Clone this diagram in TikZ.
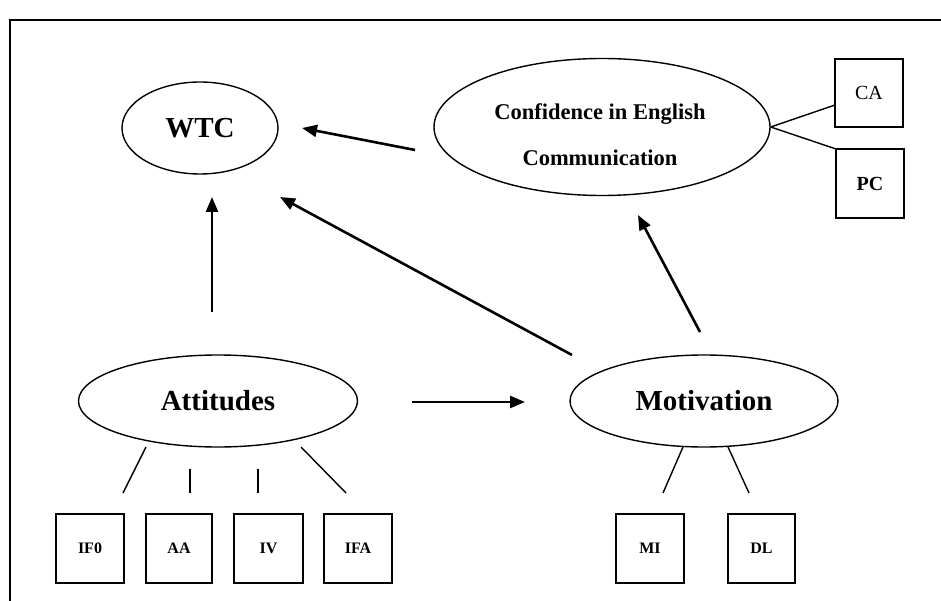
\documentclass[tikz,border=0pt]{standalone}
\usepackage{fontspec}
\setmainfont{Liberation Serif}
\usetikzlibrary{shapes.geometric,arrows.meta}
\begin{document}
\begin{tikzpicture}[x=1pt,y=-1pt,
  oval/.style={draw,ellipse,line width=1.4pt,inner sep=0pt},
  box/.style={draw,rectangle,line width=1.4pt,inner sep=0pt},
  link/.style={line width=1.4pt},
  arr/.style={line width=2.6pt,-{Triangle[length=15pt,width=12pt]}},
  big/.style={font=\fontsize{29}{34}\selectfont\bfseries},
  small/.style={font=\fontsize{16}{19}\selectfont\bfseries}]
\useasboundingbox (0,0) rectangle (941,601);
\draw[line width=1.4pt] (10,601) -- (10,20) -- (941,20);
% ellipses
\node[oval,big,minimum width=156pt,minimum height=92pt] (wtc) at (200,128) {WTC};
\node[oval,minimum width=336pt,minimum height=137pt] (conf) at (602,127) {};
\node[font=\fontsize{22.5}{46}\selectfont\bfseries,align=center] (conftxt) at (600,135) {Confidence in English\\Communication};
\node[oval,big,minimum width=279pt,minimum height=92pt] (att) at (218,401) {Attitudes};
\node[oval,big,minimum width=268pt,minimum height=92pt] (mot) at (704,401) {Motivation};
% side boxes
\node[box,minimum width=68pt,minimum height=68pt,font=\fontsize{20}{24}\selectfont] (ca) at (869,93) {CA};
\node[box,minimum width=68pt,minimum height=69pt,font=\fontsize{20}{24}\selectfont\bfseries] (pc) at (870,183.5) {PC};
% bottom boxes
\node[box,small,minimum width=68pt,minimum height=69pt] (ifo) at (90,548.5) {IF0};
\node[box,small,minimum width=66pt,minimum height=69pt] (aa) at (179,548.5) {AA};
\node[box,small,minimum width=69pt,minimum height=69pt] (iv) at (268.5,548.5) {IV};
\node[box,small,minimum width=68pt,minimum height=69pt] (ifa) at (358,548.5) {IFA};
\node[box,small,minimum width=68pt,minimum height=69pt] (mi) at (650,548.5) {MI};
\node[box,small,minimum width=67pt,minimum height=69pt] (dl) at (761.5,548.5) {DL};
% connector end points
\coordinate (caend) at (835,105);
\coordinate (pcend) at (836,149);
\coordinate (l1a) at (146,447); \coordinate (l1b) at (123,493);
\coordinate (l2a) at (190,469); \coordinate (l2b) at (190,493);
\coordinate (l3a) at (258,469); \coordinate (l3b) at (258,493);
\coordinate (l4a) at (301,447); \coordinate (l4b) at (346,493);
\coordinate (l5a) at (683,447); \coordinate (l5b) at (663,493);
\coordinate (l6a) at (728,447); \coordinate (l6b) at (749,493);
\draw[link] (conf.east) -- (caend);
\draw[link] (conf.east) -- (pcend);
\draw[link] (l1a) -- (l1b);
\draw[link] (l2a) -- (l2b);
\draw[link] (l3a) -- (l3b);
\draw[link] (l4a) -- (l4b);
\draw[link] (l5a) -- (l5b);
\draw[link] (l6a) -- (l6b);
% arrows
\coordinate (c2wa) at (415,150); \coordinate (c2wb) at (302,128);
\coordinate (a2wa) at (212,312); \coordinate (a2wb) at (212,197);
\coordinate (m2wa) at (572,355); \coordinate (m2wb) at (280,197);
\coordinate (a2ma) at (412,402); \coordinate (a2mb) at (525,402);
\coordinate (m2ca) at (700,332); \coordinate (m2cb) at (638,215);
\draw[arr] (c2wa) -- (c2wb);
\draw[arr] (a2wa) -- (a2wb);
\draw[arr] (m2wa) -- (m2wb);
\draw[arr] (a2ma) -- (a2mb);
\draw[arr] (m2ca) -- (m2cb);
\end{tikzpicture}
\end{document}
